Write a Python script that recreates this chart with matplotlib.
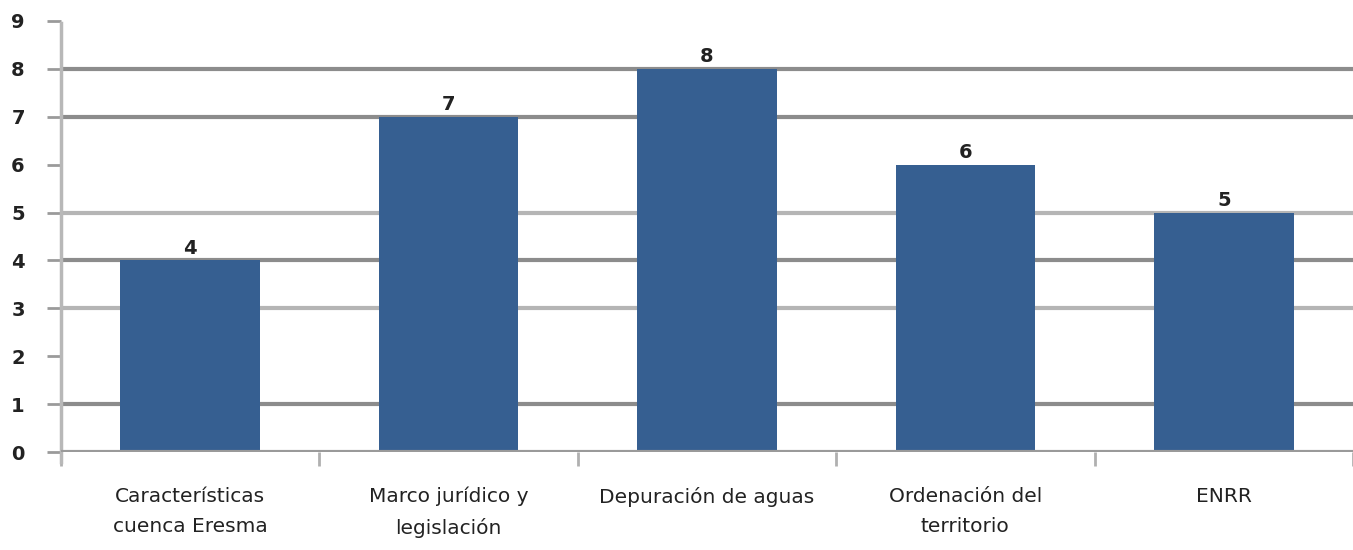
import matplotlib
matplotlib.use('Agg')
import matplotlib.pyplot as plt

categorias = ['Características\ncuenca Eresma', 'Marco jurídico y\nlegislación',
              'Depuración de aguas', 'Ordenación del\nterritorio', 'ENRR']
valores = [4, 7, 8, 6, 5]

fig = plt.figure(figsize=(13.53, 5.5), dpi=100)
ax = fig.add_axes([0.045, 0.178, 0.955, 0.784])

x = list(range(len(categorias)))
# lineas de rejilla (las de 2 y 6 casi no se ven en la imagen original)
for yv, c in [(1, '#8c8c8c'), (3, '#b5b5b5'), (4, '#8c8c8c'), (5, '#b5b5b5'),
              (7, '#8c8c8c'), (8, '#8c8c8c')]:
    ax.axhline(yv, color=c, lw=3, zorder=0)
ax.axhline(0, color='#9a9a9a', lw=3, zorder=3)

bars = ax.bar(x, valores, width=0.54, color='#365F91', zorder=2)
for b, v in zip(bars, valores):
    ax.text(b.get_x() + b.get_width() / 2, v + 0.05, str(v), ha='center', va='bottom',
            fontsize=14, fontweight='bold', color='#222222')

ax.set_xlim(-0.49, 4.5)
ax.set_ylim(0, 9)
ax.set_yticks(range(10))
ax.set_yticklabels([str(i) for i in range(10)], fontsize=14, fontweight='bold', color='#222222')
ax.tick_params(axis='y', length=10, width=2, color='#9a9a9a', pad=16)

ax.set_xticks([i + 0.5 for i in range(-1, 4)] + [4.5], minor=False)
ax.set_xticklabels([])
ax.tick_params(axis='x', length=10, width=2, color='#b0b0b0')
for i, lab in enumerate(categorias):
    ax.text(i, -0.72, lab, ha='center', va='top', fontsize=14.5, color='#222222',
            linespacing=1.75, transform=ax.transData)

for s in ['top', 'right', 'bottom']:
    ax.spines[s].set_visible(False)
ax.spines['left'].set_color('#b8b8b8')
ax.spines['left'].set_linewidth(2.5)
ax.spines['left'].set_bounds(-0.2, 8.95)

fig.savefig('out.png', dpi=100)
